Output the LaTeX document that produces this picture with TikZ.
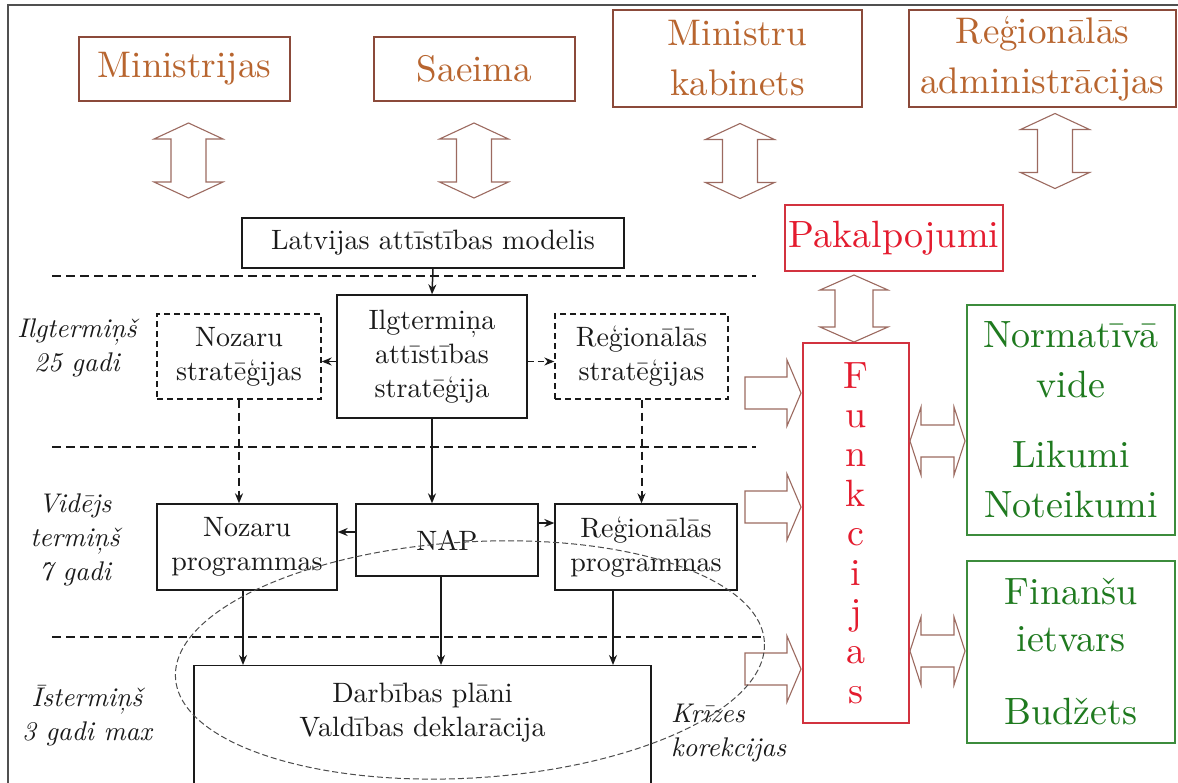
\documentclass[tikz,border=0pt]{standalone}
\usepackage{fontspec}
\setmainfont{lmroman10}[Extension=.otf,UprightFont=*-regular,ItalicFont=*-italic,BoldFont=*-bold,BoldItalicFont=*-bolditalic]
\usetikzlibrary{arrows.meta,calc}
\definecolor{btxt}{HTML}{B8652F}
\definecolor{bline}{HTML}{8B4A3A}
\definecolor{barr}{HTML}{9C6A60}
\definecolor{rtxt}{HTML}{E41B2E}
\definecolor{rline}{HTML}{D2323F}
\definecolor{gtxt}{HTML}{1F7A1F}
\definecolor{gline}{HTML}{3C8C3C}
\definecolor{framec}{HTML}{505050}
\definecolor{ink}{HTML}{1A1A1A}
\tikzset{
  brownbox/.style={draw=bline, line width=1.2pt, text=btxt, font=\fontsize{37pt}{50pt}\selectfont, inner sep=0pt, align=center},
  blackbox/.style={draw=ink, line width=1.3pt, text=ink, font=\fontsize{28pt}{34pt}\selectfont, inner sep=0pt, align=center},
  dbox/.style={blackbox, dash pattern=on 6pt off 4pt},
  redbox/.style={draw=rline, line width=1.2pt, text=rtxt, font=\fontsize{38pt}{39.4pt}\selectfont, inner sep=0pt, align=center},
  greenbox/.style={draw=gline, line width=1.2pt, text=gtxt, inner sep=0pt, align=center},
  lbl/.style={font=\itshape\fontsize{27pt}{34pt}\selectfont, text=ink, inner sep=0pt, align=center},
  arr/.style={-{Stealth[length=10pt,width=8pt]}, line width=1.5pt, draw=ink},
  darr/.style={arr, dash pattern=on 8pt off 5pt, line width=2pt},
  hdash/.style={draw=ink, dash pattern=on 9pt off 5pt, line width=1.2pt},
  ell/.style={draw=black!70, dash pattern=on 6pt off 3pt, line width=1pt},
  pics/vdbl/.style n args={4}{code={
    \draw[barr, line width=1.1pt, fill=white] (0,-#1) -- (#3,-#1+#2) -- (#4,-#1+#2) -- (#4,#1-#2) -- (#3,#1-#2) -- (0,#1)
      -- (-#3,#1-#2) -- (-#4,#1-#2) -- (-#4,-#1+#2) -- (-#3,-#1+#2) -- cycle;
  }},
  pics/rarr/.style={code={
    \draw[barr, line width=1.1pt, fill=white] (-28,-16) -- (14,-16) -- (14,-33) -- (28,0) -- (14,33) -- (14,16) -- (-28,16) -- cycle;
  }},
  pics/hdbl/.style={code={
    \draw[barr, line width=1.1pt, fill=white] (-27.5,0) -- (-16.5,-34) -- (-16.5,-16) -- (16.5,-16) -- (16.5,-34) -- (27.5,0)
      -- (16.5,34) -- (16.5,16) -- (-16.5,16) -- (-16.5,34) -- cycle;
  }},
}
\begin{document}
\begin{tikzpicture}[x=1pt,y=-1pt]
\fill[white] (0,0) rectangle (1178,782);
% frame
\draw[framec, line width=2.5pt] (8,790) -- (8,5) -- (1180,5);

% top boxes
\node[brownbox, minimum width=211pt, minimum height=64pt] (min) at (184.5,69) {Ministrijas};
\node[brownbox, minimum width=201pt, minimum height=64pt] (saeima) at (474.5,69) {Saeima};
\node[brownbox, minimum width=249pt, minimum height=97pt] (minkab) at (737.5,58.5) {Ministru\\kabinets};
\node[brownbox, minimum width=267pt, minimum height=97pt] (regadm) at (1042.5,58.5) {Reģionālās\\administrācijas};

\pic at (188.5,160.5) {vdbl={37.5}{16}{34.5}{17.5}};
\pic at (474,160.5) {vdbl={37.5}{16}{34.5}{17.5}};
\pic at (740,161) {vdbl={37.5}{16}{34.5}{17.5}};
\pic at (1055,151) {vdbl={37.5}{16}{34.5}{17.5}};

% central structure
\node[blackbox, minimum width=382pt, minimum height=50pt] (lam) at (433,243) {Latvijas attīstības modelis};
\node[blackbox, minimum width=190pt, minimum height=123pt] (ilgt) at (432,356.5) {Ilgtermiņa\\attīstības\\stratēģija};
\node[dbox, minimum width=164pt, minimum height=85pt] (nozs) at (239,356.5) {Nozaru\\stratēģijas};
\node[dbox, minimum width=173pt, minimum height=85pt] (regs) at (641.5,356.5) {Reģionālās\\stratēģijas};
\node[blackbox, minimum width=180pt, minimum height=86pt] (nozp) at (247,547) {Nozaru\\programmas};
\node[blackbox, minimum width=182pt, minimum height=72pt] (nap) at (447,540) {NAP};
\node[blackbox, minimum width=182pt, minimum height=86pt] (regp) at (646,547) {Reģionālās\\programmas};
\node[blackbox, minimum width=457pt, minimum height=150pt, anchor=north] (darb) at (422.5,665) {};
\node[blackbox, draw=none] (darbt) at (422.5,713) {Darbības plāni\\Valdības deklarācija};

% level lines
\coordinate (d1l) at (52,276); \coordinate (d1r) at (756,276);
\coordinate (d2l) at (52,447); \coordinate (d2r) at (756,447);
\coordinate (d3l) at (52,637); \coordinate (d3r) at (763,637);
\draw[hdash] (d1l) -- (d1r);
\draw[hdash] (d2l) -- (d2r);
\draw[hdash] (d3l) -- (d3r);

% labels
\node[lbl] (l1) at (77,348) {Ilgtermiņš\\25 gadi};
\node[lbl] (l2) at (75,540) {Vidējs\\termiņš\\7 gadi};
\node[lbl] (l3) at (87,716) {Īstermiņš\\3 gadi max};
\node[lbl, align=left, anchor=west] (l4) at (671,733) {Krīzes\\korekcijas};

% connector anchor points
\coordinate (a1) at ($(ilgt.west)+(0,5)$);
\coordinate (a2) at ($(ilgt.east)+(0,5)$);
\coordinate (a3) at ($(nap.west)+(0,-8)$);
\coordinate (a4) at ($(nap.east)+(0,-17)$);
\coordinate (b1) at ($(nozp.south)+(-4,0)$);
\coordinate (b2) at ($(nap.south)+(-6,0)$);
\coordinate (b3) at ($(regp.south)+(-33,0)$);

% connectors
\draw[arr] (lam.south) -- (ilgt.north);
\draw[arr] (a1) -- (a1 -| nozs.east);
\draw[arr, dash pattern=on 6pt off 4pt] (a2) -- (a2 -| regs.west);
\draw[darr] (nozs.south) -- (nozs.south |- nozp.north);
\draw[arr] (ilgt.south) -- (ilgt.south |- nap.north);
\draw[darr] (regs.south) -- (regs.south |- regp.north);
\draw[arr] (a3) -- (a3 -| nozp.east);
\draw[arr] (a4) -- (a4 -| regp.west);
\draw[arr] (b1) -- (b1 |- darb.north);
\draw[arr] (b2) -- (b2 |- darb.north);
\draw[arr] (b3) -- (b3 |- darb.north);

% right part
\node[redbox, minimum width=218pt, minimum height=66pt] (pak) at (894,238) {Pakalpojumi};
\pic at (854,308.5) {vdbl={33.5}{15}{34}{19}};
\node[redbox, minimum width=106pt, minimum height=380pt] (funk) at (856,533) {F\\u\\n\\k\\c\\i\\j\\a\\s};
\pic at (773,393) {rarr};
\pic at (773,507) {rarr};
\pic at (773,669) {rarr};
\pic at (937.5,441) {hdbl};
\pic at (937.5,651) {hdbl};
\node[greenbox, minimum width=208pt, minimum height=230pt, font=\fontsize{38pt}{50pt}\selectfont] (norm) at (1071,420) {Normatīvā\\vide\\[20pt]Likumi\\Noteikumi};
\node[greenbox, minimum width=208pt, minimum height=182pt, font=\fontsize{38pt}{47pt}\selectfont] (fin) at (1071,652) {Finanšu\\ietvars\\[26pt]Budžets};

% crisis ellipse
\coordinate (ec) at (470,660);
\draw[ell, rotate around={3.5:(ec)}] (ec) ellipse [x radius=295pt, y radius=118pt];

\pgfresetboundingbox
\path[use as bounding box] (0,0) rectangle (1178,782);
\end{tikzpicture}
\end{document}
